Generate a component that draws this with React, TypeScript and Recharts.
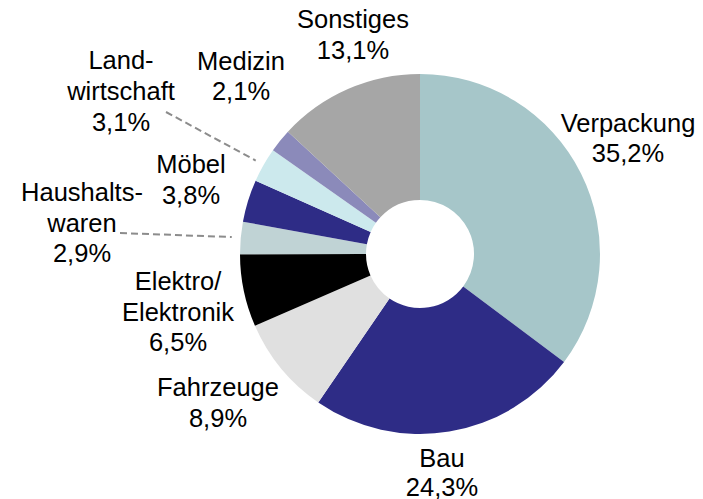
import { Cell, Pie, PieChart } from "recharts"

const categories = [
  "Verpackung",
  "Bau",
  "Fahrzeuge",
  "Elektro/Elektronik",
  "Haushaltswaren",
  "Möbel",
  "Landwirtschaft",
  "Medizin",
  "Sonstiges",
]
const shares = [35.2, 24.3, 8.9, 6.5, 2.9, 3.8, 3.1, 2.1, 13.1]
const labelLines = [
  ["Verpackung"],
  ["Bau"],
  ["Fahrzeuge"],
  ["Elektro/", "Elektronik"],
  ["Haushalts-", "waren"],
  ["Möbel"],
  ["Land-", "wirtschaft"],
  ["Medizin"],
  ["Sonstiges"],
]
const colors = ["#A6C6C9", "#2E2C86", "#E0E0E0", "#000000", "#C0D3D5", "#2E2C86", "#CCE9ED", "#8B8ABA", "#A6A6A6"]

// label placement relative to pie center: text center x, first baseline y, line height
const labelLayout = [
  { dx: 208, dy: -122, lh: 30 },
  { dx: 22, dy: 213, lh: 28.5 },
  { dx: -202, dy: 142, lh: 30.5 },
  { dx: -242, dy: 36, lh: 30.5 },
  { dx: -338, dy: -53, lh: 30.5 },
  { dx: -229, dy: -81, lh: 31 },
  { dx: -299, dy: -185, lh: 31 },
  { dx: -179, dy: -184, lh: 30 },
  { dx: -67, dy: -226, lh: 31 },
]
// dashed leader lines: start relative to center
const leaders: Record<number, { sx: number; sy: number }> = {
  4: { sx: -300, sy: -21 },
  6: { sx: -254, sy: -142 },
}

const data = categories.map((name, i) => ({ name, value: shares[i] }))

const RAD = Math.PI / 180

function renderLabel(props: any) {
  const { cx, cy, index, midAngle, outerRadius } = props
  const lay = labelLayout[index]
  const lines = [...labelLines[index], shares[index].toFixed(1).replace(".", ",") + "%"]
  const x = cx + lay.dx
  const y = cy + lay.dy
  const leader = leaders[index]
  let line = null
  if (leader) {
    const r = outerRadius + 9
    const ex = cx + r * Math.cos(-midAngle * RAD)
    const ey = cy + r * Math.sin(-midAngle * RAD)
    line = (
      <line
        x1={cx + leader.sx}
        y1={cy + leader.sy}
        x2={ex}
        y2={ey}
        stroke="#8C8C8C"
        strokeWidth={2}
        strokeDasharray="7 4"
      />
    )
  }
  return (
    <g key={`lbl-${index}`}>
      {line}
      <text x={x} y={y} textAnchor="middle" fontFamily="'Liberation Sans', Arial, sans-serif" fontSize={25.5} fill="#000">
        {lines.map((t, i) => (
          <tspan key={i} x={x} dy={i === 0 ? 0 : lay.lh}>
            {t}
          </tspan>
        ))}
      </text>
    </g>
  )
}

export default function App() {
  return (
    <div style={{ position: "absolute", left: 0, top: 0, background: "#fff" }}>
      <PieChart width={703} height={499} margin={{ top: 0, right: 0, bottom: 0, left: 0 }}>
        <Pie
          data={data}
          dataKey="value"
          cx={420}
          cy={254}
          innerRadius={54}
          outerRadius={180}
          startAngle={90}
          endAngle={-270}
          stroke="none"
          label={renderLabel}
          labelLine={false}
          isAnimationActive={false}
        >
          {data.map((d, i) => (
            <Cell key={d.name} fill={colors[i]} />
          ))}
        </Pie>
      </PieChart>
    </div>
  )
}
